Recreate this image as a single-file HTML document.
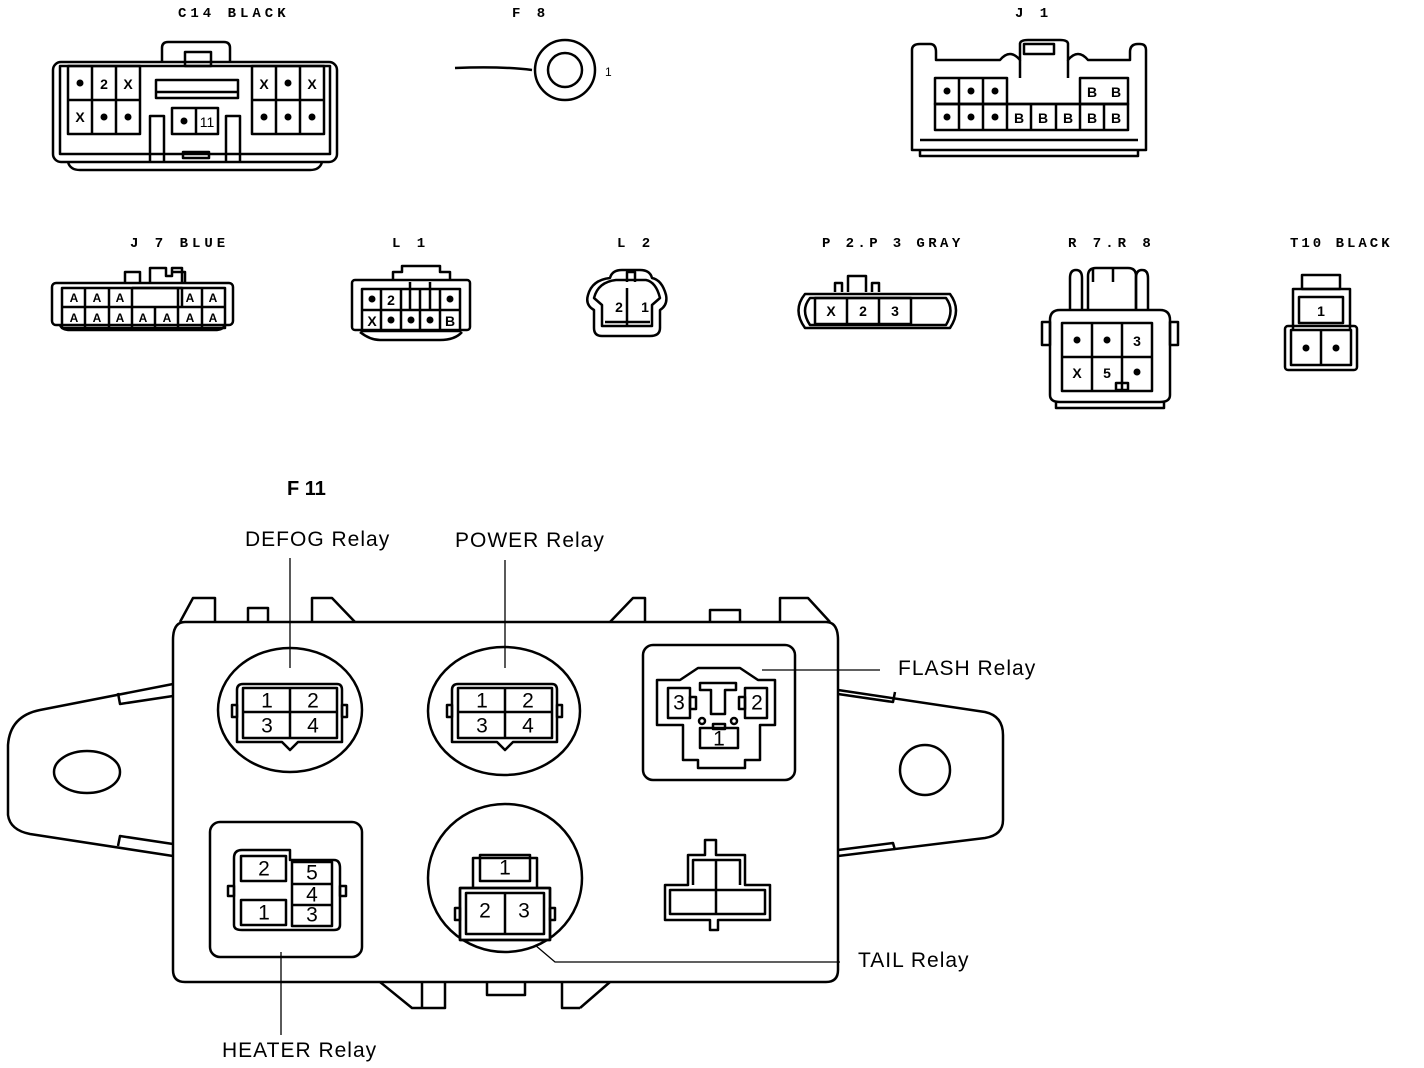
<!DOCTYPE html>
<html><head><meta charset="utf-8"><style>
html,body{margin:0;padding:0;background:#fff}
svg{display:block}
.l{font-family:"Liberation Mono",monospace;font-weight:bold;font-size:14px;letter-spacing:4px}
.c{font-family:"Liberation Sans",sans-serif;font-weight:bold;font-size:14px;text-anchor:middle;dominant-baseline:central}
.r{font-family:"Liberation Sans",sans-serif;font-size:21px;letter-spacing:1px}
.n{font-family:"Liberation Sans",sans-serif;font-size:21px;text-anchor:middle;dominant-baseline:central}
</style></head><body>
<svg width="1424" height="1068" viewBox="0 0 1424 1068" xmlns="http://www.w3.org/2000/svg">
<g fill="none" stroke="#000" stroke-width="2.5" stroke-linejoin="round">
<!-- C14 -->
<path d="M162,62 V48 Q162,42 168,42 H224 Q230,42 230,48 V62"/>
<rect x="185" y="52" width="26" height="14"/>
<rect x="53" y="62" width="284" height="100" rx="8"/>
<rect x="60" y="66" width="270" height="88"/>
<path d="M68,162 Q70,170 80,170 H310 Q320,170 322,162"/>
<rect x="68" y="66" width="72" height="68"/><path d="M92,66V134M116,66V134M68,100H140"/>
<rect x="252" y="66" width="72" height="68"/><path d="M276,66V134M300,66V134M252,100H324"/>
<rect x="156" y="80" width="82" height="18"/><path d="M156,92H238"/>
<rect x="172" y="108" width="46" height="26"/><path d="M196,108V134"/>
<path d="M150,162V116H164V162M226,162V116H240V162"/>
<rect x="183" y="152" width="26" height="6"/>
<!-- F8 -->
<path d="M455,68 Q500,66 532,70"/>
<circle cx="565" cy="70" r="30"/><circle cx="565" cy="70" r="17"/>
<!-- J1 -->
<path d="M912,150 V50 Q912,44 920,44 H930 Q936,44 936,52 V60 H1000 Q1010,48 1020,60 V44 Q1020,40 1028,40 H1060 Q1068,40 1068,44 V60 Q1078,48 1088,60 H1130 V52 Q1130,44 1138,44 H1140 Q1146,44 1146,50 V150 Z"/>
<rect x="1024" y="44" width="30" height="10"/>
<rect x="935" y="78" width="72" height="26"/><path d="M959,78V130M983,78V130M1007,104V130M1031,104V130M1056,104V130M1080,104V130M1104,104V130M935,104H1128"/>
<rect x="935" y="104" width="193" height="26"/>
<rect x="1080" y="78" width="48" height="26"/>
<path d="M1020,78V60M1068,78V60"/>
<path d="M920,140H1138M920,150V156H1138V150"/>
<!-- J7 -->
<path d="M125,283V272H140V283M150,283V268H166V276H172V268H182V283M185,283V272H172"/>
<rect x="52" y="283" width="181" height="42" rx="4"/>
<rect x="62" y="288" width="163" height="40"/>
<path d="M62,307H225M85,288V328M109,288V328M132,288V328M155,307V328M178,307V328M202,288V328M132,288V307M178,288V307"/>
<path d="M132,288H182V307"/>
<path d="M60,325Q62,330 70,330H215Q223,330 225,325"/>
<!-- L1 -->
<path d="M393,280V272H402V266H440V272H450V280"/>
<rect x="352" y="280" width="118" height="50" rx="3"/>
<rect x="362" y="289" width="98" height="42"/>
<path d="M362,310H460M381,289V331M401,289V331M420,310V331M440,289V331M401,289V310M420,289V310"/>
<path d="M410,282V310M430,282V310"/>
<path d="M360,332Q370,340 380,340H440Q455,340 462,332"/>
<!-- L2 -->
<path d="M610,278Q612,270 622,270H640Q650,270 652,278Q662,280 666,295Q668,305 660,310V328Q660,336 650,336H602Q594,336 594,328V310Q585,305 588,295Q592,280 610,278Z"/>
<path d="M616,280H646Q656,282 660,298L652,305V326H602V305L594,298Q598,282 616,280Z"/>
<path d="M627,282V272H635V282M627,288V326M605,322H650"/>
<!-- P2P3 -->
<path d="M835,292V283H842V292M848,292V276H866V292M872,292V283H879V292"/>
<path d="M805,294H950Q962,310 950,328H805Q792,310 805,294Z"/>
<path d="M810,298H946Q955,310 946,325H810Q800,310 810,298Z"/>
<rect x="815" y="298" width="96" height="26"/><path d="M847,298V324M879,298V324"/>
<!-- R7R8 -->
<path d="M1070,310V278Q1070,270 1076,270Q1082,270 1082,278V310M1136,310V278Q1136,270 1142,270Q1148,270 1148,278V310"/>
<path d="M1088,310V276Q1088,268 1096,268H1128Q1136,268 1136,276V310"/>
<path d="M1093,282V268M1113,282V268"/>
<path d="M1050,320Q1050,310 1060,310H1160Q1170,310 1170,320V395Q1170,402 1160,402H1060Q1050,402 1050,395Z"/>
<path d="M1042,322H1050V345H1042ZM1170,322H1178V345H1170Z"/>
<rect x="1062" y="323" width="90" height="68"/><path d="M1092,323V391M1122,323V391M1062,357H1152M1122,357V384"/>
<rect x="1116" y="383" width="12" height="7"/>
<path d="M1056,402V408H1164V402"/>
<!-- T10 -->
<rect x="1302" y="275" width="38" height="14"/>
<path d="M1293,330V289H1350V330"/>
<rect x="1299" y="297" width="44" height="26"/>
<rect x="1285" y="326" width="72" height="44" rx="3"/>
<rect x="1291" y="330" width="60" height="35"/><path d="M1321,330V365"/>

<!-- F11 main body -->
<path d="M173,640 Q173,622 185,622 H826 Q838,622 838,640 V970 Q838,982 826,982 H185 Q173,982 173,970 Z"/>
<path d="M180,622 L193,598 H215 V622M248,622V608H268V622M312,622V598H332L355,622M610,622L633,598H645V622M710,622V610H740V622M780,622V598H808L830,622"/>
<path d="M380,982 L412,1008 H422 V982 M422,1008 H445 V982 M487,982 V995 H525 V982 M562,982 V1008 H580 M580,1008 L610,982"/>
<!-- ears -->
<path d="M173,684 L40,710 Q10,716 8,745 V815 Q10,830 30,834 L173,856"/>
<path d="M118,693 L120,704 L173,696 M118,846 L120,836 L173,844"/>
<ellipse cx="87" cy="772" rx="33" ry="21"/>
<path d="M838,690 L985,712 Q1003,716 1003,735 V820 Q1003,835 985,838 L838,856"/>
<path d="M838,694 L893,702 L895,692 M838,850 L893,843 L895,850"/>
<circle cx="925" cy="770" r="25"/>
<!-- DEFOG -->
<ellipse cx="290" cy="710" rx="72" ry="62"/>
<path d="M237,690 Q237,684 243,684 H337 Q342,684 342,690 V742 H298 L290,750 L282,742 H237 Z"/>
<rect x="243" y="688" width="94" height="50"/><path d="M290,688V738M243,712H337"/>
<path d="M232,705h5v12h-5zM342,705h5v12h-5z"/>
<!-- POWER -->
<ellipse cx="504" cy="711" rx="76" ry="64"/>
<path d="M452,690 Q452,684 458,684 H552 Q557,684 557,690 V742 H513 L505,750 L497,742 H452 Z"/>
<rect x="458" y="688" width="94" height="50"/><path d="M505,688V738M458,712H552"/>
<path d="M447,705h5v12h-5zM557,705h5v12h-5z"/>
<!-- FLASH -->
<rect x="643" y="645" width="152" height="135" rx="10"/>
<path d="M657,725 V680 H680 L698,668 H740 L758,680 H775 V725 H760 V760 H745 V768 H698 V760 H683 V725 Z"/>
<rect x="668" y="688" width="22" height="30"/><rect x="745" y="688" width="22" height="30"/>
<path d="M700,683 H736 V690 H725 V714 H711 V690 H700 Z"/>
<rect x="690" y="697" width="6" height="12"/><rect x="739" y="697" width="6" height="12"/>
<circle cx="702" cy="721" r="3"/><circle cx="734" cy="721" r="3"/>
<rect x="700" y="728" width="38" height="20"/><rect x="713" y="724" width="12" height="5"/>
<!-- HEATER -->
<rect x="210" y="822" width="152" height="135" rx="10"/>
<path d="M234,858 Q234,850 242,850 H290 V860 H334 Q340,860 340,868 V925 Q340,930 334,930 H242 Q234,930 234,925 Z"/>
<rect x="241" y="856" width="45" height="25"/><rect x="241" y="900" width="45" height="25"/>
<rect x="292" y="862" width="40" height="64"/><path d="M292,884H332M292,905H332"/>
<path d="M228,886h6v10h-6zM340,886h6v10h-6z"/>
<!-- TAIL -->
<ellipse cx="505" cy="878" rx="77" ry="74"/>
<path d="M473,890 V858 H537 V890"/>
<rect x="480" y="855" width="50" height="26"/>
<rect x="460" y="888" width="90" height="52" fill="#fff"/>
<rect x="460" y="888" width="90" height="52"/>
<rect x="466" y="893" width="78" height="41"/><path d="M505,893V934"/>
<path d="M455,908h5v12h-5zM550,908h5v12h-5z"/>
<!-- small connector -->
<path d="M688,885 V855 H705 V840 H716 V855 H745 V885 H770 V920 H718 V930 H710 V920 H665 V885 Z"/>
<path d="M693,885 V860 H740 V885 M670,890 H765 V914 H670 Z M716,860 V914"/>
</g>
<!-- leader lines -->
<g fill="none" stroke="#000" stroke-width="1.3">
<path d="M290,558V668M505,560V668M762,670H880M535,945L555,962H840"/>
<path d="M281,952V1035"/>
</g>
<!-- labels -->
<g fill="#000">
<text class="l" x="178" y="17">C14 BLACK</text>
<text class="l" x="512" y="17">F 8</text>
<text x="605" y="76" font-family="Liberation Sans" font-size="12">1</text>
<text class="l" x="1015" y="17">J 1</text>
<text class="l" x="130" y="247">J 7 BLUE</text>
<text class="l" x="392" y="247">L 1</text>
<text class="l" x="617" y="247">L 2</text>
<text class="l" x="822" y="247" style="letter-spacing:3.4px">P 2.P 3 GRAY</text>
<text class="l" x="1068" y="247">R 7.R 8</text>
<text class="l" x="1290" y="247" style="letter-spacing:3px">T10 BLACK</text>
<text x="287" y="495" font-family="Liberation Sans" font-weight="bold" font-size="20">F 11</text>
<text class="r" x="245" y="546">DEFOG Relay</text>
<text class="r" x="455" y="547">POWER Relay</text>
<text class="r" x="898" y="675">FLASH Relay</text>
<text class="r" x="858" y="967">TAIL Relay</text>
<text class="r" x="222" y="1057">HEATER Relay</text>
</g>
<g fill="#000">
<circle cx="80" cy="83" r="3.5"/><text class="c" x="104" y="84">2</text><text class="c" x="128" y="84">X</text>
<text class="c" x="80" y="117">X</text><circle cx="104" cy="117" r="3.5"/><circle cx="128" cy="117" r="3.5"/>
<text class="c" x="264" y="84">X</text><circle cx="288" cy="83" r="3.5"/><text class="c" x="312" y="84">X</text>
<circle cx="264" cy="117" r="3.5"/><circle cx="288" cy="117" r="3.5"/><circle cx="312" cy="117" r="3.5"/>
<circle cx="184" cy="121" r="3.5"/><text class="c" x="207" y="122" style="font-weight:normal">11</text>
<circle cx="947" cy="91" r="3.5"/><circle cx="971" cy="91" r="3.5"/><circle cx="995" cy="91" r="3.5"/>
<text class="c" x="1092" y="92">B</text><text class="c" x="1116" y="92">B</text>
<circle cx="947" cy="117" r="3.5"/><circle cx="971" cy="117" r="3.5"/><circle cx="995" cy="117" r="3.5"/>
<text class="c" x="1019" y="118">B</text><text class="c" x="1043" y="118">B</text><text class="c" x="1068" y="118">B</text><text class="c" x="1092" y="118">B</text><text class="c" x="1116" y="118">B</text>
<text class="c" x="74" y="298" style="font-size:12px">A</text><text class="c" x="97" y="298" style="font-size:12px">A</text><text class="c" x="120" y="298" style="font-size:12px">A</text>
<text class="c" x="190" y="298" style="font-size:12px">A</text><text class="c" x="213" y="298" style="font-size:12px">A</text>
<text class="c" x="74" y="318" style="font-size:12px">A</text><text class="c" x="97" y="318" style="font-size:12px">A</text><text class="c" x="120" y="318" style="font-size:12px">A</text><text class="c" x="143" y="318" style="font-size:12px">A</text><text class="c" x="167" y="318" style="font-size:12px">A</text><text class="c" x="190" y="318" style="font-size:12px">A</text><text class="c" x="213" y="318" style="font-size:12px">A</text>
<circle cx="372" cy="299" r="3.5"/><text class="c" x="391" y="300">2</text><circle cx="450" cy="299" r="3.5"/>
<text class="c" x="372" y="321">X</text><circle cx="391" cy="320" r="3.5"/><circle cx="411" cy="320" r="3.5"/><circle cx="430" cy="320" r="3.5"/><text class="c" x="450" y="321">B</text>
<text class="c" x="619" y="307">2</text><text class="c" x="645" y="307">1</text>
<text class="c" x="831" y="311">X</text><text class="c" x="863" y="311">2</text><text class="c" x="895" y="311">3</text>
<circle cx="1077" cy="340" r="3.5"/><circle cx="1107" cy="340" r="3.5"/><text class="c" x="1137" y="341">3</text>
<text class="c" x="1077" y="373">X</text><text class="c" x="1107" y="373">5</text><circle cx="1137" cy="372" r="3.5"/>
<text class="c" x="1321" y="311">1</text><circle cx="1306" cy="348" r="3.5"/><circle cx="1336" cy="348" r="3.5"/>
<text class="n" x="267" y="701">1</text><text class="n" x="313" y="701">2</text><text class="n" x="267" y="726">3</text><text class="n" x="313" y="726">4</text>
<text class="n" x="482" y="701">1</text><text class="n" x="528" y="701">2</text><text class="n" x="482" y="726">3</text><text class="n" x="528" y="726">4</text>
<text class="n" x="679" y="703">3</text><text class="n" x="757" y="703">2</text><text class="n" x="719" y="739">1</text>
<text class="n" x="264" y="869">2</text><text class="n" x="264" y="913">1</text>
<text class="n" x="312" y="873">5</text><text class="n" x="312" y="895">4</text><text class="n" x="312" y="915">3</text>
<text class="n" x="505" y="868">1</text><text class="n" x="485" y="911">2</text><text class="n" x="524" y="911">3</text>
</g>
</svg>
</body></html>
